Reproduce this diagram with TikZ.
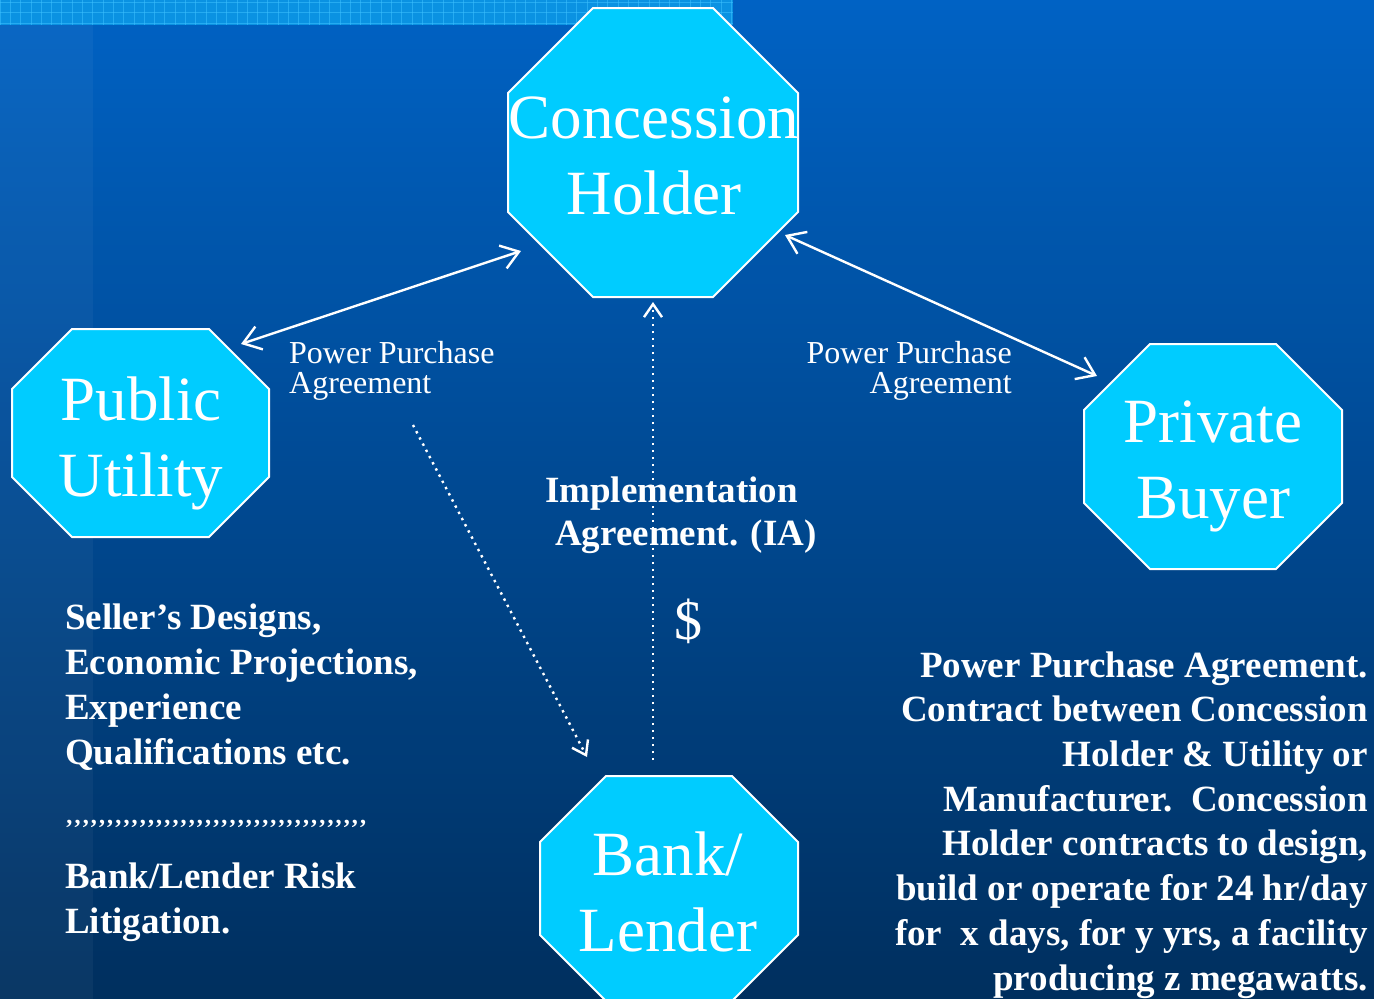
\documentclass[tikz,border=0pt]{standalone}
\usepackage{fontspec}
\setmainfont{Liberation Serif}
\usetikzlibrary{arrows.meta}
\definecolor{bgtop}{HTML}{0062C4}
\definecolor{bgbot}{HTML}{002F5E}
\definecolor{stripc}{HTML}{0A92E2}
\definecolor{gridc}{HTML}{3CC0FF}
\definecolor{octfill}{HTML}{00CCFF}
\newcommand\octagonpath[5]{%
  \draw[octo] (#1+#5,#2) -- (#3-#5,#2) -- (#3,#2+#5) -- (#3,#4-#5) -- (#3-#5,#4) -- (#1+#5,#4) -- (#1,#4-#5) -- (#1,#2+#5) -- cycle;}
\newcommand\ap{’\kern0pt}
\begin{document}
\begin{tikzpicture}[x=1pt,y=-1pt,
  octo/.style={fill=octfill,draw=white,line width=2pt,line join=miter},
  octlabel/.style={text=white,inner sep=0pt,align=center,font=\fontsize{63}{76}\selectfont},
  ppa/.style={text=white,inner sep=0pt,font=\fontsize{32}{30}\selectfont},
  boldtxt/.style={text=white,inner sep=0pt,font=\bfseries\fontsize{37}{44.7}\selectfont},
  conn/.style={draw=white,line width=2.4pt,arrows={Straight Barb[length=17pt,width=24pt]-Straight Barb[length=17pt,width=24pt]}},
  dotc/.style={draw=white,line width=2.4pt,dash pattern=on 2.4pt off 4.6pt,-{Straight Barb[length=13pt,width=18pt]}}]
\useasboundingbox (0,0) rectangle (1374,999);
% background
\shade[top color=bgtop,bottom color=bgbot] (0,0) rectangle (1374,999);
\fill[white,opacity=0.04] (0,25) rectangle (93,999);
\fill[stripc] (0,0) rectangle (733,25);
\foreach \i in {0,...,71} \draw[gridc,opacity=0.55,line width=0.8pt] (\i*10.3,0) -- (\i*10.3,25);
\foreach \j in {2,12.5,23.5} \draw[gridc,opacity=0.55,line width=0.8pt] (0,\j) -- (733,\j);
% octagons
\octagonpath{508}{8}{798}{297}{85}
\octagonpath{12}{329}{269}{537}{60}
\octagonpath{1084}{344}{1342}{569}{66}
\octagonpath{540}{776}{798}{1001}{66}
% octagon labels (base = baseline of last line)
\node[octlabel,anchor=base] (ch) at (654,214) {Concession\\Holder};
\node[octlabel,anchor=base] (pu) at (141,496) {Public\\Utility};
\node[octlabel,anchor=base] (pb) at (1213,518) {Private\\Buyer};
\node[octlabel,anchor=base] (bl) at (668,951) {Bank/\\Lender};
% connectors
\coordinate (a1s) at (241,344);
\coordinate (a1e) at (521,251);
\coordinate (a2s) at (785,235);
\coordinate (a2e) at (1097,376);
\coordinate (d1s) at (413,425);
\coordinate (d1e) at (587,757);
\coordinate (d2s) at (653,760);
\coordinate (d2e) at (653,302);
\draw[conn] (a1s) -- (a1e);
\draw[conn] (a2s) -- (a2e);
\draw[dotc] (d1s) -- (d1e);
\draw[dotc] (d2s) -- (d2e);
% labels
\node[ppa,anchor=base west,align=left] (ppaL) at (289,393) {Power Purchase\\Agreement};
\node[ppa,anchor=base east,align=right] (ppaR) at (1012,393) {Power Purchase\\Agreement};
\node[boldtxt,anchor=base west,align=left,font=\bfseries\fontsize{37}{43}\selectfont] (ia) at (545,545) {Implementation\\\hspace*{10pt}Agreement. (IA)};
\node[text=white,inner sep=0pt,anchor=base,font=\fontsize{56}{56}\selectfont] (dollar) at (688,639) {\$};
\node[boldtxt,anchor=base west,align=left] (sell) at (65,764) {Seller’s Designs,\\Economic Projections,\\Experience\\Qualifications etc.};
\node[text=white,inner sep=0pt,anchor=base west,font=\bfseries\fontsize{24.5}{24.5}\selectfont] (commas) at (65,836) {\ap\ap\ap\ap\ap\ap\ap\ap\ap\ap\ap\ap\ap\ap\ap\ap\ap\ap\ap\ap\ap\ap\ap\ap\ap\ap\ap\ap\ap\ap\ap\ap\ap\ap\ap\ap’};
\node[boldtxt,anchor=base west,align=left] (risk) at (65,933) {Bank/Lender Risk\\Litigation.};
\node[boldtxt,anchor=base east,align=right] (ppatext) at (1368,990) {Power Purchase Agreement.\\Contract between Concession\\Holder \& Utility or\\Manufacturer.\ \ Concession\\Holder contracts to design,\\build or operate for 24 hr/day\\for\ \ x days, for y yrs, a facility\\producing z megawatts.};
\end{tikzpicture}
\end{document}
